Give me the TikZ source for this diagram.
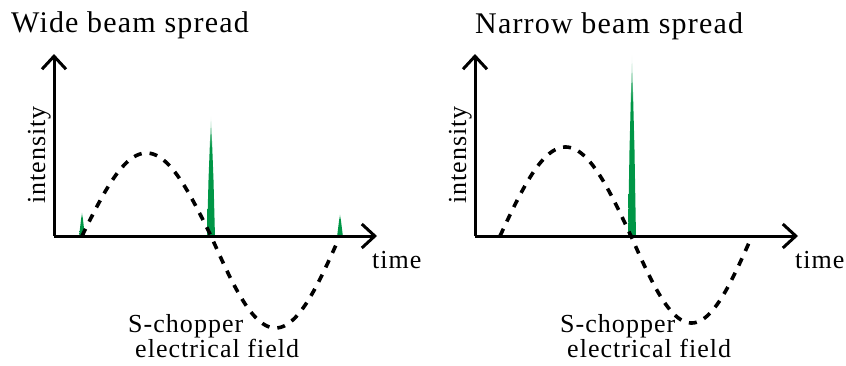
\documentclass[tikz,border=0pt]{standalone}
\usepackage{fontspec}
\setmainfont{Liberation Serif}[LetterSpace=4]
\usetikzlibrary{arrows.meta}
\definecolor{spkgreen}{RGB}{0,150,70}
\pgfdeclareverticalshading{spikeshade}{100bp}{color(0bp)=(spkgreen); color(25bp)=(spkgreen); color(62bp)=(spkgreen); color(75bp)=(white); color(100bp)=(white)}
\begin{document}
\begin{tikzpicture}[x=1pt,y=-1pt,
  axis/.style={line width=3pt,-{Straight Barb[length=13pt,width=24pt]}},
  field/.style={line width=3.6pt,dash pattern=on 8pt off 8pt},
  spike/.style={shading=spikeshade},
  title/.style={inner sep=0pt,font=\fontsize{30}{36}\selectfont},
  lab/.style={inner sep=0pt,font=\fontsize{26}{31}\selectfont}]
\useasboundingbox (0,0) rectangle (846,365);
% ---------- left panel ----------
\coordinate (o1) at (54,236);
\coordinate (ytip1) at (54,54);
\coordinate (xtip1) at (377,236);
\shade[spike] (79,237) -- (82,211) -- (85,237) -- cycle;
\shade[spike] (207,237) -- (208.5,180) -- (211,115) -- (213.5,180) -- (215,237) -- cycle;
\shade[spike] (337,237) -- (340,213) -- (343,237) -- cycle;
\draw[axis] (o1) -- (ytip1);
\draw[axis] (o1) -- (xtip1);
\draw[field] plot[domain=82:211,samples=70] (\x,{236-83*sin((\x-82)/129*180)})
  -- plot[domain=211:338,samples=70] (\x,{236+92*sin((\x-211)/129*180)});
\node[title,anchor=base west] (t1) at (11,32) {Wide beam spread};
\node[lab,anchor=base west] (time1) at (372,268) {time};
\node[lab,rotate=90,anchor=base] (int1) at (45,155) {intensity};
\node[lab,anchor=base west] (sc1) at (128,332) {S-chopper};
\node[lab,anchor=base west] (ef1) at (135,357) {electrical field};
% ---------- right panel ----------
\coordinate (o2) at (475,236);
\coordinate (ytip2) at (475,54);
\coordinate (xtip2) at (798,236);
\shade[spike] (628,237) -- (629.5,150) -- (632,54) -- (634.5,150) -- (636,237) -- cycle;
\draw[axis] (o2) -- (ytip2);
\draw[axis] (o2) -- (xtip2);
\draw[field] plot[domain=500:631,samples=70] (\x,{236-89*sin((\x-500)/131*180)})
  -- plot[domain=631:750,samples=70] (\x,{236+87*sin((\x-631)/121*180)});
\node[title,anchor=base west] (t2) at (475,33) {Narrow beam spread};
\node[lab,anchor=base west] (time2) at (795,268) {time};
\node[lab,rotate=90,anchor=base] (int2) at (466,155) {intensity};
\node[lab,anchor=base west] (sc2) at (560,332) {S-chopper};
\node[lab,anchor=base west] (ef2) at (567,357) {electrical field};
\end{tikzpicture}
\end{document}
